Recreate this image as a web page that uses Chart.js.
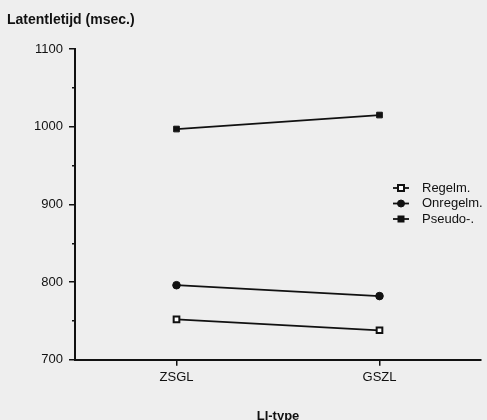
<!DOCTYPE html>
<html>
<head>
<meta charset="utf-8">
<script src="https://cdn.jsdelivr.net/npm/chart.js@4/dist/chart.umd.min.js"></script>
<style>
  html, body { margin: 0; padding: 0; background: #eeeeee; }
  #wrap { width: 487px; height: 420px; position: relative; }
</style>
</head>
<body>
<div id="wrap"><canvas id="c"></canvas></div>
<script>
// ---- data ----
const categories = ['ZSGL', 'GSZL'];
const regelm = [752, 738];
const onregelm = [796, 782];
const pseudo = [997, 1015];
const seriesNames = ['Regelm.', 'Onregelm.', 'Pseudo-.'];
const yTitle = 'Latentletijd (msec.)';
const xTitle = 'LI-type';

const FONT = "'Liberation Sans', Arial, Helvetica, sans-serif";
const INK = '#111111';

const bgPlugin = {
  id: 'bg',
  beforeDraw(chart) {
    const c = chart.ctx;
    c.save();
    c.fillStyle = '#eeeeee';
    c.fillRect(0, 0, chart.width, chart.height);
    c.restore();
  }
};

const legendPlugin = {
  id: 'customLegend',
  afterDraw(chart) {
    const c = chart.ctx;
    const x0 = 393, lineLen = 16, textX = 422;
    const ys = [188, 203.5, 219];
    c.save();
    chart.data.datasets.forEach((ds, i) => {
      const y = ys[i];
      c.strokeStyle = INK;
      c.lineWidth = 1.8;
      c.beginPath();
      c.moveTo(x0, y);
      c.lineTo(x0 + lineLen, y);
      c.stroke();
      const cx = x0 + lineLen / 2;
      c.fillStyle = ds.pointBackgroundColor;
      c.strokeStyle = INK;
      c.lineWidth = ds.pointBorderWidth;
      if (ds.pointStyle === 'circle') {
        c.beginPath();
        c.arc(cx, y, 3.5, 0, Math.PI * 2);
        c.fill();
        c.stroke();
      } else {
        c.fillRect(cx - 3, y - 3, 6, 6);
        c.strokeRect(cx - 3, y - 3, 6, 6);
      }
      c.fillStyle = INK;
      c.font = '13px ' + FONT;
      c.textBaseline = 'middle';
      c.textAlign = 'left';
      c.fillText(ds.label, textX, y);
    });
    c.restore();
  }
};

new Chart(document.getElementById('c'), {
  type: 'line',
  data: {
    labels: categories,
    datasets: [
      { label: seriesNames[0], data: regelm, borderColor: INK, borderWidth: 1.8,
        pointStyle: 'rect', pointRadius: 4, pointBorderWidth: 2,
        pointBackgroundColor: '#ffffff', pointBorderColor: INK },
      { label: seriesNames[1], data: onregelm, borderColor: INK, borderWidth: 1.8,
        pointStyle: 'circle', pointRadius: 3.8, pointBorderWidth: 1,
        pointBackgroundColor: INK, pointBorderColor: INK },
      { label: seriesNames[2], data: pseudo, borderColor: INK, borderWidth: 1.8,
        pointStyle: 'rect', pointRadius: 4, pointBorderWidth: 1,
        pointBackgroundColor: INK, pointBorderColor: INK }
    ]
  },
  options: {
    responsive: true,
    maintainAspectRatio: false,
    animation: false,
    layout: { padding: { left: 7, right: 6, top: 0, bottom: -4 } },
    plugins: {
      legend: { display: false },
      tooltip: { enabled: false },
      title: {
        display: true, text: yTitle, align: 'start', color: INK,
        font: { family: FONT, size: 14, weight: 'bold' },
        padding: { top: 12, bottom: 20.2 }
      }
    },
    scales: {
      x: {
        type: 'category',
        offset: true,
        border: { display: true, color: INK, width: 2 },
        grid: { drawOnChartArea: false, tickLength: 6, color: INK, lineWidth: 1.5 },
        ticks: { color: INK, padding: 4, font: { family: FONT, size: 13 } },
        title: { display: true, text: xTitle, color: INK,
          font: { family: FONT, size: 13, weight: 'bold' },
          padding: { top: 19, bottom: 0 } }
      },
      y: {
        min: 700, max: 1100,
        border: { display: true, color: INK, width: 2 },
        grid: {
          drawOnChartArea: false, tickLength: 6, color: INK, lineWidth: 1.5,
          tickBorderDash: (ctx) => (ctx.tick && ctx.tick.value % 100 !== 0) ? [0, 3, 3, 100] : []
        },
        ticks: {
          stepSize: 50, color: INK, padding: 6,
          font: { family: FONT, size: 13 },
          callback: (v) => (v % 100 === 0 ? String(v) : '')
        },
        afterFit(scale) { scale.width = 68; }
      }
    }
  },
  plugins: [bgPlugin, legendPlugin]
});
</script>
</body>
</html>
